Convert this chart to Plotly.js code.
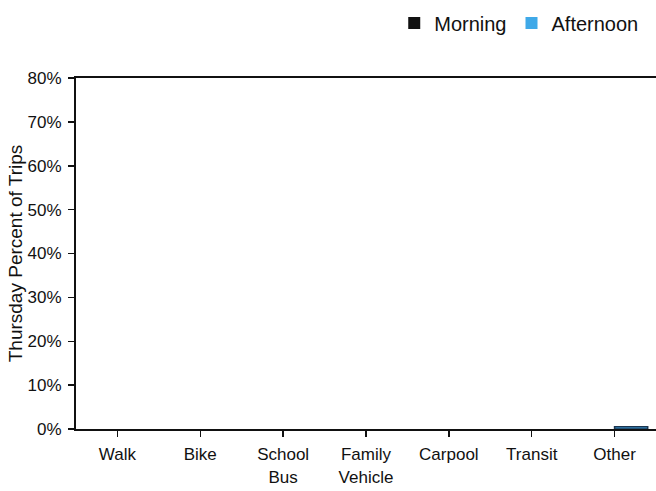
<!DOCTYPE html>
<html>
<head>
<meta charset="utf-8">
<script src="https://cdn.plot.ly/plotly-3.0.1.min.js"></script>
<style>html,body{margin:0;padding:0;background:#fff;}#chart{width:656px;height:491px;}</style>
</head>
<body>
<div id="chart"></div>
<script>
var categories = ["Walk", "Bike", "School<br>Bus", "Family<br>Vehicle", "Carpool", "Transit", "Other"];
var morning = [0, 0, 0, 0, 0, 0, 0];
var afternoon = [0, 0, 0, 0, 0, 0, 0.005];
var yTickVals = [0, 0.1, 0.2, 0.3, 0.4, 0.5, 0.6, 0.7, 0.8];
var yTickText = ["0%", "10%", "20%", "30%", "40%", "50%", "60%", "70%", "80%"];

var font = "Liberation Sans, Arial, sans-serif";
var lineW = function (vals) { return vals.map(function (v) { return v > 0 ? 1.5 : 0; }); };
var data = [
  {type: "bar", name: "Morning", x: categories, y: morning,
   marker: {color: "#111111", line: {color: "#000000", width: lineW(morning)}}},
  {type: "bar", name: "Afternoon", x: categories, y: afternoon,
   marker: {color: "#3fa9e8", line: {color: "#1b3550", width: lineW(afternoon)}}}
];
var layout = {
  width: 656, height: 491,
  margin: {l: 76, r: 0, t: 78, b: 62, pad: 0},
  paper_bgcolor: "#ffffff", plot_bgcolor: "#ffffff",
  font: {family: font, size: 17, color: "#111111"},
  barmode: "group", bargap: 0.2, bargroupgap: 0,
  showlegend: true,
  legend: {orientation: "h", x: 0.978, xanchor: "right", y: 1.157, yanchor: "middle",
           font: {family: font, size: 20, color: "#111111"}, itemwidth: 30,
           traceorder: "normal", bgcolor: "rgba(0,0,0,0)"},
  xaxis: {type: "category", showgrid: false, zeroline: false,
          showline: true, linecolor: "#111111", linewidth: 2, mirror: true,
          ticks: "outside", ticklen: 6, tickwidth: 1.5, tickcolor: "#111111",
          ticklabelstandoff: 3,
          tickfont: {family: font, size: 17, color: "#111111"}},
  yaxis: {range: [0, 0.8], tickvals: yTickVals, ticktext: yTickText,
          showgrid: false, zeroline: false,
          showline: true, linecolor: "#111111", linewidth: 2,
          ticks: "outside", ticklen: 6, tickwidth: 1.5, tickcolor: "#111111",
          ticklabelstandoff: 3,
          tickfont: {family: font, size: 17, color: "#111111"},
          title: {text: "Thursday Percent of Trips", standoff: 0,
                  font: {family: font, size: 19, color: "#111111"}}}
};
Plotly.newPlot("chart", data, layout, {displayModeBar: false, staticPlot: true});
</script>
</body>
</html>
